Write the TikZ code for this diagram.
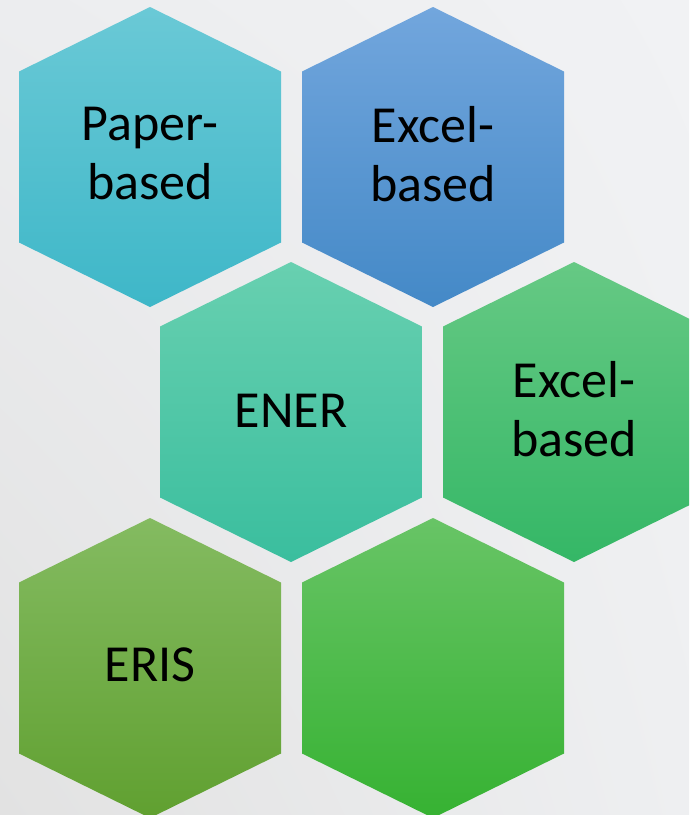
\documentclass[tikz,border=0pt]{standalone}
\usepackage{fontspec}
\setmainfont{Carlito}
\usetikzlibrary{shadings}
\definecolor{bgUL}{RGB}{236,237,239}\definecolor{bgUR}{RGB}{241,242,244}
\definecolor{bgLL}{RGB}{226,226,226}\definecolor{bgLR}{RGB}{238,239,241}
\definecolor{paperT}{RGB}{106,201,214}\definecolor{paperB}{RGB}{62,183,200}
\definecolor{blueT}{RGB}{114,166,221}\definecolor{blueB}{RGB}{68,137,199}
\definecolor{enerT}{RGB}{104,208,176}\definecolor{enerB}{RGB}{58,190,158}
\definecolor{exT}{RGB}{102,201,132}\definecolor{exB}{RGB}{52,183,102}
\definecolor{erisT}{RGB}{132,187,97}\definecolor{erisB}{RGB}{96,160,48}
\definecolor{sixT}{RGB}{104,196,102}\definecolor{sixB}{RGB}{54,178,50}
\newcommand{\hexpath}[2]{(#1,#2-150) -- (#1+131,#2-85.5) -- (#1+131,#2+85.5) -- (#1,#2+150) -- (#1-131,#2+85.5) -- (#1-131,#2-85.5) -- cycle}
\begin{document}
\begin{tikzpicture}[x=1pt,y=-1pt,
  hexlabel/.style={font=\fontsize{52}{59}\selectfont, align=center, text=black, inner sep=0pt},
]
\useasboundingbox (0,0) rectangle (689,815);
\shade[upper left=bgUL, upper right=bgUR, lower left=bgLL, lower right=bgLR]
  (0,0) rectangle (689,815);
\clip (0,0) rectangle (689,815);
\shade[top color=paperT, bottom color=paperB] \hexpath{150}{157};
\shade[top color=blueT, bottom color=blueB] \hexpath{433}{157};
\shade[top color=enerT, bottom color=enerB] \hexpath{291}{412};
\shade[top color=exT, bottom color=exB] \hexpath{574}{412};
\shade[top color=erisT, bottom color=erisB] \hexpath{150}{668};
\shade[top color=sixT, bottom color=sixB] \hexpath{433}{668};
\node[hexlabel] (paper) at (150,154) {Paper-\\based};
\node[hexlabel] (excel1) at (433,154) {Excel-\\based};
\node[hexlabel] (ener) at (291,411) {ENER};
\node[hexlabel] (excel2) at (574,409) {Excel-\\based};
\node[hexlabel] (eris) at (150,665) {ERIS};
\end{tikzpicture}
\end{document}
